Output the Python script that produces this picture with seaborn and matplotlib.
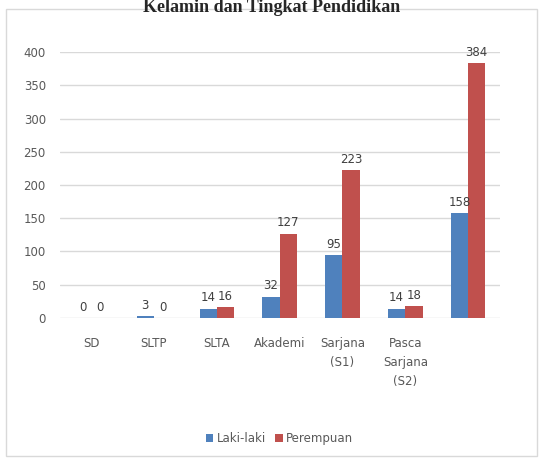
import pandas as pd
import matplotlib.pyplot as plt
import seaborn as sns
from matplotlib.patches import Rectangle

categories = ['SD', 'SLTP', 'SLTA', 'Akademi', 'Sarjana\n(S1)', 'Pasca\nSarjana\n(S2)', '']
laki_laki = [0, 3, 14, 32, 95, 14, 158]
perempuan = [0, 0, 16, 127, 223, 18, 384]

df = pd.DataFrame({
    'Pendidikan': categories * 2,
    'Jumlah': laki_laki + perempuan,
    'Jenis': ['Laki-laki'] * len(categories) + ['Perempuan'] * len(categories),
})

sns.set_style('white')
fig = plt.figure(figsize=(5.43, 4.58), dpi=100)
ax = fig.add_axes([0.11, 0.306, 0.81, 0.58])

sns.barplot(data=df, x='Pendidikan', y='Jumlah', hue='Jenis',
            palette=['#4F81BD', '#C0504D'], width=0.55, ax=ax,
            edgecolor='none', saturation=1)

for c in ax.containers:
    ax.bar_label(c, padding=3, fontsize=8.5, color='#404040', clip_on=False)

ax.set_ylim(0, 400)
ax.set_yticks(range(0, 401, 50))
ax.yaxis.grid(True, color='#d9d9d9', linewidth=1)
ax.set_axisbelow(True)
for s in ax.spines.values():
    s.set_visible(False)
ax.tick_params(axis='x', pad=14, labelsize=8.5, colors='#595959', length=0)
ax.tick_params(axis='y', pad=10, labelsize=8.5, colors='#595959', length=0)
ax.set_xlabel('')
ax.set_ylabel('')
for t in ax.get_xticklabels():
    t.set_verticalalignment('top')
    t.set_linespacing(1.6)

ax.legend(loc='upper center', bbox_to_anchor=(0.5, -0.39), ncol=2, frameon=False,
          fontsize=8.5, handlelength=0.6, handleheight=0.6, handletextpad=0.3,
          columnspacing=0.8, labelcolor='#595959')

fig.patches.append(Rectangle((6 / 543, 2 / 458), 531 / 543, 447 / 458, transform=fig.transFigure,
                             fill=False, edgecolor='#d9d9d9', linewidth=1))
fig.text(0.5, 1 - 7 / 458, 'Kelamin dan Tingkat Pendidikan', ha='center', va='center',
         fontsize=13, fontweight='bold', family='Liberation Serif')

plt.savefig('out.png', dpi=100)
